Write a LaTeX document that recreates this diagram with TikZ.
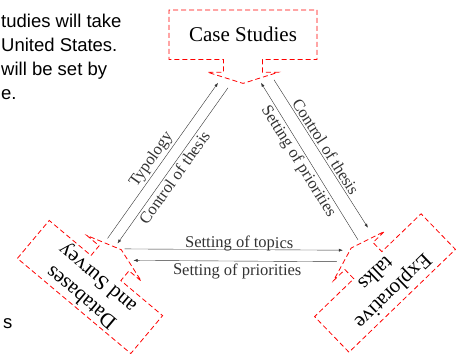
\documentclass[tikz,border=0pt]{standalone}
\usepackage{fontspec}
\setmainfont{Liberation Serif}
\newfontfamily\notefont{Liberation Sans}
\usetikzlibrary{arrows.meta,shapes.arrows}
\tikzset{
  >={Latex[length=4pt,width=3pt]},
  pbox/.style={arrow box, draw=red, line width=0.8pt, dash pattern=on 5pt off 3pt,
               minimum width=148pt, minimum height=49.5pt, inner sep=2pt, align=center,
               font=\fontsize{21}{25}\selectfont,
               arrow box arrows={south:23.5pt from border},
               arrow box shaft width=39pt, arrow box head extend=16pt,
               arrow box tip angle=145},
  flow/.style={black!80, line width=0.4pt},
  flowlbl/.style={sloped, inner sep=2pt, font=\fontsize{16.5}{19}\selectfont},
  note/.style={inner sep=0pt, anchor=base west, font=\notefont\fontsize{18.5}{22}\selectfont},
}

\begin{document}
\begin{tikzpicture}[x=1pt,y=1pt]
  \useasboundingbox (0,0) rectangle (462,353);

  % text cut at the page edge
  \foreach \ln [count=\i] in {tudies will take, United States., will be set by, e.}
    \node[note] (note\i) at (1,349.5-24*\i) {\ln};
  \node[note] (noteend) at (3,25) {s};

  % the three sources
  \node[pbox] (cases) at (243,318.25) {Case Studies};
  \node[pbox, rotate=140] (data) at (90,66) {Databases\\and Survey};
  \node[pbox, rotate=-136] (talks) at (385,70) {Explorative\\talks};

  % left side
  \draw[flow, ->] ([shift={(-14,11)}]data.south arrow tip)
    -- node[flowlbl, above, pos=0.47] {Typology} ([shift={(-25,1)}]cases.south arrow tip);
  \draw[flow, <-] ([shift={(-4,6)}]data.south arrow tip)
    -- node[flowlbl, below, pos=0.454] {Control of thesis} ([shift={(-15,-4)}]cases.south arrow tip);

  % right side
  \draw[flow, <-] ([shift={(18,1)}]cases.south arrow tip)
    -- node[flowlbl, below, pos=0.47] {Setting of priorities} ([shift={(7,8)}]talks.south arrow tip);
  \draw[flow, ->] ([shift={(31,4)}]cases.south arrow tip)
    -- node[flowlbl, above, pos=0.48] {Control of thesis} ([shift={(17,20)}]talks.south arrow tip);

  % bottom
  \draw[flow, ->] ([shift={(3,0.5)}]data.south arrow tip)
    -- node[flowlbl, above, pos=0.525, inner sep=0pt, yshift=-2pt] {Setting of topics} ([shift={(-8,-2.5)}]talks.south arrow tip);
  \draw[flow, <-] ([shift={(12,-11)}]data.south arrow tip)
    -- node[flowlbl, below, pos=0.51, inner sep=2.5pt] {Setting of priorities} ([shift={(-14,-14)}]talks.south arrow tip);

\end{tikzpicture}
\end{document}
